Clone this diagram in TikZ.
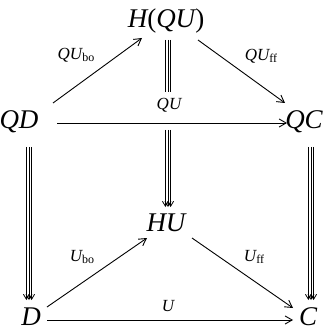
\documentclass[tikz,border=0pt]{standalone}
\usepackage{fontspec}
\setmainfont{Liberation Serif}
\usetikzlibrary{arrows.meta,calc}
\newcommand\lsub[1]{\raisebox{-0.35ex}{\upshape\fontsize{12}{12}\selectfont #1}}
\begin{document}
\begin{tikzpicture}[x=1pt,y=-1pt,
  obj/.style={font=\fontsize{27}{30}\selectfont\itshape, inner sep=0pt},
  lab/.style={font=\fontsize{17}{19}\selectfont\itshape, inner sep=0pt},
  arr/.style={line width=0.9pt, -{Straight Barb[length=7pt,width=8pt]}},
  tline/.style={line width=0.8pt},
  ttip/.style={line width=0.8pt, -{Straight Barb[length=5pt,width=6pt]}}]
\useasboundingbox (0,0) rectangle (324,336);
% objects
\node[obj] (HQU) at (166,21) {H{\upshape(}QU{\upshape)}};
\node[obj] (QD) at (19,122) {QD};
\node[obj] (QC) at (304,122) {QC};
\node[obj] (HU) at (166,223) {HU};
\node[obj] (D) at (31,317) {D};
\node[obj] (C) at (308,317) {C};
% triple arrows
\foreach \dx in {-2.6,0,2.6}{
  \draw[ttip,transform canvas={xshift=\dx pt}] ([shift={(10,25)}]QD.center) -- ([shift={(-2,-17)}]D.center);
  \draw[ttip,transform canvas={xshift=\dx pt}] ([shift={(7,25)}]QC.center) -- ([shift={(3,-17)}]C.center);
  \draw[tline,transform canvas={xshift=\dx pt}] ([shift={(2,19)}]HQU.center) -- ([shift={(2,71)}]HQU.center);
  \draw[ttip,transform canvas={xshift=\dx pt}] ([shift={(2,-93)}]HU.center) -- ([shift={(2,-16)}]HU.center);
}
% single arrows
\draw[arr] ([shift={(34,-19)}]QD.center) -- ([shift={(-24,17)}]HQU.center);
\draw[arr] ([shift={(32,19)}]HQU.center) -- ([shift={(-19,-19)}]QC.center);
\draw[arr] ([shift={(38,1)}]QD.center) -- ([shift={(-17,1)}]QC.center);
\draw[arr] ([shift={(16,-10)}]D.center) -- ([shift={(-19,15)}]HU.center);
\draw[arr] ([shift={(26,15)}]HU.center) -- ([shift={(-15,-9)}]C.center);
\draw[arr] ([shift={(16,3)}]D.center) -- ([shift={(-15,3)}]C.center);
% labels
\node[lab] (l1) at (76,55) {QU\lsub{bo}};
\node[lab] (l2) at (261,56) {QU\lsub{ff}};
\node[lab] (l3) at (169,105) {QU};
\node[lab] (l4) at (82,257) {U\lsub{bo}};
\node[lab] (l5) at (254,257) {U\lsub{ff}};
\node[lab] (l6) at (168,306) {U};
\end{tikzpicture}
\end{document}
